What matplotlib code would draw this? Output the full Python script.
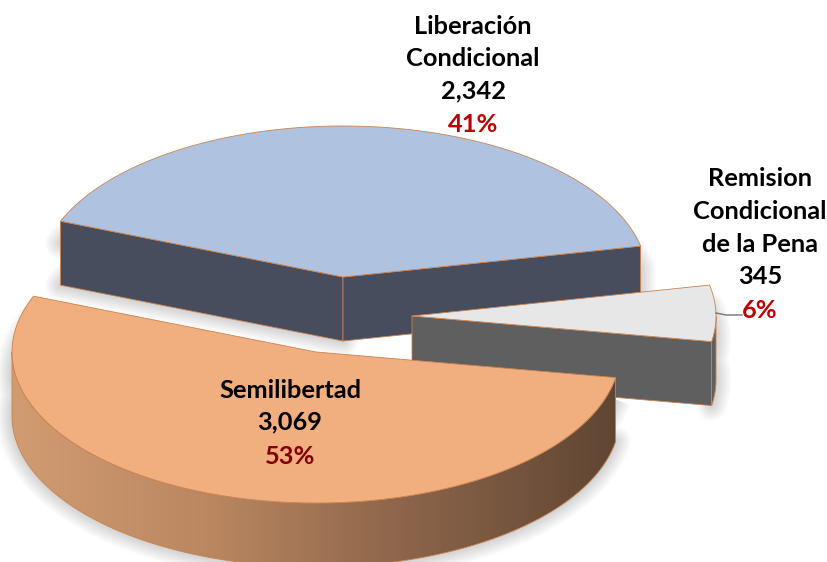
import numpy as np
import matplotlib
matplotlib.use('Agg')
import matplotlib.pyplot as plt
from matplotlib.colors import LinearSegmentedColormap
from matplotlib.patches import Polygon

# Datos
categorias = ['Liberación\nCondicional', 'Remision\nCondicional\nde la Pena', 'Semilibertad']
valores = [2342, 345, 3069]
valores_txt = ['2,342', '345', '3,069']
porcentajes = ['41%', '6%', '53%']

# Geometria del pastel (pixeles de la imagen)
RX, RY = 304, 151
ALTO = 64
INICIO = 158.3
CENTROS = [(343, 277), (412, 316), (316, 352)]
BORDE = '#C9824F'


def arco(cx, cy, t0, t1, dy=0):
    t = np.radians(np.linspace(t0, t1, 200))
    return np.column_stack([cx + RX*np.cos(t), cy - RY*np.sin(t) + dy])


def sombra(puntos):
    # sombra difusa: varios trazos transparentes
    for lw in range(2, 24, 2):
        ax.add_patch(Polygon(puntos, closed=True, fc='none', ec='#000000', lw=lw,
                             alpha=0.016, joinstyle='round', zorder=1))


fig = plt.figure(figsize=(8.27, 5.62), dpi=100)
ax = fig.add_axes([0, 0, 1, 1])

# Angulos de cada rebanada (sentido horario)
angulos = np.array(valores)/sum(valores)*360
fin = INICIO - np.cumsum(angulos)
ini = np.concatenate([[INICIO], fin[:-1]])

# Sombras (solo hacia abajo y a los lados)
for (cx, cy), a, b in zip(CENTROS, ini, fin):
    tapa = arco(cx, cy, a, b)
    silueta = np.vstack([tapa + [0, 22], tapa[::-1] + [0, ALTO], [[cx, cy + ALTO]]])
    sombra(silueta)

# Liberacion Condicional
cx, cy = CENTROS[0]
tapa = arco(cx, cy, ini[0], fin[0])
muro_izq = [tapa[0], (cx, cy), (cx, cy + ALTO), tapa[0] + [0, ALTO]]
muro_der = [(cx, cy), tapa[-1], tapa[-1] + [0, ALTO], (cx, cy + ALTO)]
ax.add_patch(Polygon(muro_izq, fc='#474D5C', ec=BORDE, lw=0.6, zorder=2))
ax.add_patch(Polygon(muro_der, fc='#474D5C', ec=BORDE, lw=0.6, zorder=2))
ax.add_patch(Polygon(np.vstack([tapa, [(cx, cy)]]), fc='#AFC3E1', ec=BORDE, lw=0.6, zorder=3))

# Remision Condicional
cx, cy = CENTROS[1]
tapa = arco(cx, cy, ini[1], fin[1])
muro = [(cx, cy), tapa[-1], tapa[-1] + [0, ALTO], (cx, cy + ALTO)]
orilla = np.vstack([arco(cx, cy, 0, fin[1]), arco(cx, cy, fin[1], 0, ALTO)])
ax.add_patch(Polygon(muro, fc='#5F5F5F', ec=BORDE, lw=0.6, zorder=4))
ax.add_patch(Polygon(orilla, fc='#5F5F5F', ec=BORDE, lw=0.6, zorder=4))
ax.add_patch(Polygon(np.vstack([tapa, [(cx, cy)]]), fc='#E7E7E7', ec=BORDE, lw=0.6, zorder=5))

# Semilibertad
cx, cy = CENTROS[2]
tapa = arco(cx, cy, ini[2], fin[2])
frente = np.vstack([arco(cx, cy, 180, 360 + fin[1]),
                    arco(cx, cy, 360 + fin[1], 180, ALTO)])
cmap = LinearSegmentedColormap.from_list('lado', ['#D29C72', '#B98660', '#8A6349', '#5F4633'])
gradiente = np.linspace(0, 1, 256).reshape(1, -1)
x0, x1 = frente[:, 0].min(), frente[:, 0].max()
y0, y1 = frente[:, 1].min(), frente[:, 1].max()
img = ax.imshow(gradiente, cmap=cmap, extent=[x0, x1, y1, y0], aspect='auto', zorder=6)
pared = Polygon(frente, fc='none', ec=BORDE, lw=0.6, zorder=6, transform=ax.transData)
ax.add_patch(pared)
img.set_clip_path(pared)
ax.add_patch(Polygon(np.vstack([tapa, [(cx, cy)]]), fc='#F1AE7F', ec=BORDE, lw=0.6, zorder=7))

# Linea guia del 6%
ax.plot([716, 726, 742], [313, 315, 315], color='#6E7378', lw=1, zorder=8)


# Textos
def etiqueta(x, y, texto, color='black'):
    ax.text(x, y + 1, texto, family='Lato', fontweight='bold', fontsize=18.3, color=color,
            ha='center', va='center', zorder=9)


for i, linea in enumerate(categorias[0].split('\n')):
    etiqueta(473, 25 + 32.5*i, linea)
etiqueta(473, 90, valores_txt[0])
etiqueta(473, 123, porcentajes[0], '#C00000')
for i, linea in enumerate(categorias[1].split('\n')):
    etiqueta(760, 178 + 32.5*i, linea)
etiqueta(760, 276, valores_txt[1])
etiqueta(760, 309, porcentajes[1], '#C00000')
etiqueta(290, 389, categorias[2])
etiqueta(290, 421, valores_txt[2])
etiqueta(290, 455, porcentajes[2], '#800000')

ax.set_xlim(0, 827)
ax.set_ylim(562, 0)
ax.axis('off')
fig.savefig('out.png', dpi=100)
